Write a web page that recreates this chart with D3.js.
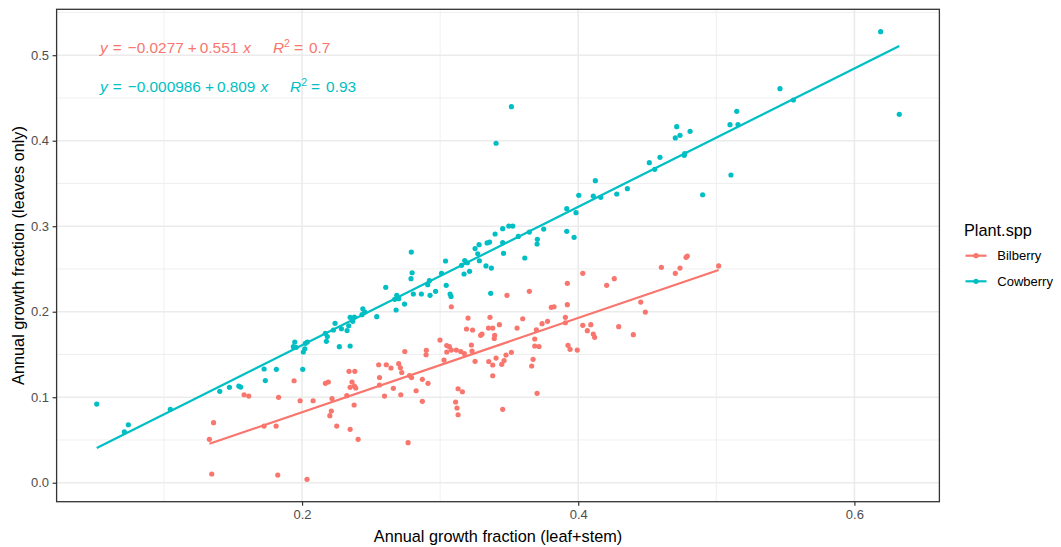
<!DOCTYPE html>
<html>
<head>
<meta charset="utf-8">
<script src="https://cdn.jsdelivr.net/npm/d3@7"></script>
<style>
	body { margin: 0; background: #fff; }
	text { font-family: "Liberation Sans", Arial, sans-serif; }
</style>
</head>
<body>
<svg width="1061" height="547"></svg>
<script>
// [leaf+stem fraction, leaves-only fraction]
var bilberry = [
	[0.1329,0.0508],[0.1359,0.0702],[0.1346,0.0102],[0.1580,0.1029],[0.1614,0.1014],[0.1725,0.0663],
	[0.1812,0.0663],[0.1830,0.0999],[0.1824,0.0090],[0.1942,0.1193],[0.1986,0.0959],[0.2080,0.0959],
	[0.2036,0.0040],[0.2169,0.1163],[0.2190,0.1178],[0.2217,0.0985],[0.2212,0.0839],[0.2201,0.0784],
	[0.2251,0.0663],[0.2348,0.0625],[0.2406,0.0508],[0.2340,0.1303],[0.2382,0.1303],[0.2362,0.1178],
	[0.2379,0.1131],[0.2348,0.1116],[0.2389,0.1108],[0.2324,0.1018],[0.2377,0.0909],[0.2555,0.1380],
	[0.2610,0.1380],[0.2644,0.1342],[0.2700,0.1392],[0.2712,0.1345],[0.2722,0.1289],[0.2744,0.1535],
	[0.2561,0.1230],[0.2561,0.1143],[0.2661,0.1104],[0.2597,0.1014],[0.2715,0.1029],[0.2778,0.1254],
	[0.2793,0.1230],[0.2768,0.0468],[0.2826,0.1076],[0.2871,0.1209],[0.2912,0.1163],[0.2871,0.0952],
	[0.2900,0.1549],[0.2898,0.1497],[0.2999,0.1669],[0.3048,0.1605],[0.3067,0.1591],[0.3048,0.1529],
	[0.3081,0.1552],[0.3117,0.1552],[0.3149,0.1535],[0.3175,0.1511],[0.3028,0.1435],[0.3130,0.1099],
	[0.3161,0.1064],[0.3112,0.0944],[0.3122,0.0874],[0.3130,0.0795],[0.3202,0.1926],[0.3191,0.1798],
	[0.3235,0.1786],[0.3226,0.1611],[0.3231,0.1540],[0.3253,0.1420],[0.3081,0.2058],[0.3293,0.1724],
	[0.3303,0.1739],[0.3361,0.1935],[0.3350,0.1809],[0.3381,0.1809],[0.3395,0.1724],[0.3392,0.1687],
	[0.3429,0.1848],[0.3352,0.1418],[0.3381,0.1377],[0.3381,0.1251],[0.3405,0.1458],[0.3477,0.1494],
	[0.3463,0.1429],[0.3446,0.1385],[0.3516,0.1525],[0.3453,0.0858],[0.3484,0.2192],[0.3557,0.1809],
	[0.3598,0.1918],[0.3646,0.2239],[0.3697,0.1789],[0.3738,0.1860],[0.3778,0.1888],[0.3685,0.1681],
	[0.3685,0.1599],[0.3716,0.1593],[0.3673,0.1443],[0.3663,0.1365],[0.3702,0.1046],[0.3805,0.2051],
	[0.3825,0.2058],[0.3921,0.2332],[0.3921,0.2082],[0.3907,0.1935],[0.3907,0.1871],[0.3926,0.1607],
	[0.3941,0.1560],[0.3993,0.1552],[0.4033,0.2449],[0.4033,0.1841],[0.4066,0.1778],[0.4091,0.1848],
	[0.4109,0.1739],[0.4119,0.1701],[0.4206,0.2309],[0.4261,0.2386],[0.4293,0.1825],[0.4399,0.1731],
	[0.4453,0.2113],[0.4486,0.1996],[0.4602,0.2519],[0.4703,0.2449],[0.4737,0.2511],[0.4781,0.2636],
	[0.4790,0.2651],[0.5017,0.2535]
];

var cowberry = [
	[0.0513,0.0920],[0.0713,0.0596],[0.0742,0.0678],[0.1046,0.0858],[0.1404,0.1069],[0.1474,0.1116],
	[0.1542,0.1131],[0.1555,0.1119],[0.1725,0.1330],[0.1734,0.1195],[0.1814,0.1326],[0.2005,0.1326],
	[0.1947,0.1646],[0.1937,0.1591],[0.1957,0.1584],[0.2024,0.1630],[0.2038,0.1646],[0.2020,0.1567],
	[0.2009,0.1529],[0.2169,0.1747],[0.2183,0.1710],[0.2176,0.1654],[0.2239,0.1864],[0.2227,0.1786],
	[0.2270,0.1591],[0.2348,0.1599],[0.2285,0.1801],[0.2326,0.1780],[0.2338,0.1836],[0.2348,0.1935],
	[0.2379,0.1938],[0.2367,0.1888],[0.2440,0.2035],[0.2454,0.1996],[0.2434,0.1965],[0.2541,0.1942],
	[0.2606,0.2285],[0.2686,0.2192],[0.2671,0.2145],[0.2700,0.2152],[0.2681,0.2020],[0.2742,0.2090],
	[0.2791,0.2698],[0.2797,0.2456],[0.2789,0.2386],[0.2806,0.2207],[0.2864,0.2207],[0.2922,0.2363],
	[0.2910,0.2316],[0.2927,0.2192],[0.2967,0.2239],[0.3010,0.2449],[0.3039,0.2593],[0.3044,0.2309],
	[0.3072,0.2207],[0.3079,0.2178],[0.3155,0.2543],[0.3173,0.2441],[0.3178,0.2599],[0.3197,0.2573],
	[0.3213,0.2473],[0.3253,0.2739],[0.3282,0.2784],[0.3272,0.2678],[0.3284,0.2596],[0.3332,0.2535],
	[0.3371,0.2511],[0.3340,0.2804],[0.3358,0.2815],[0.3366,0.2215],[0.3398,0.2909],[0.3405,0.3970],
	[0.3516,0.4398],[0.3453,0.2971],[0.3497,0.3002],[0.3526,0.3002],[0.3453,0.2807],[0.3459,0.2683],
	[0.3566,0.2880],[0.3613,0.2628],[0.3646,0.2932],[0.3704,0.2847],[0.3702,0.2792],[0.3750,0.2967],
	[0.3917,0.2940],[0.3970,0.2870],[0.3917,0.3205],[0.3984,0.3158],[0.4004,0.3361],[0.4109,0.3353],
	[0.4124,0.3532],[0.4163,0.3338],[0.4279,0.3377],[0.4356,0.3439],[0.4515,0.3743],[0.4554,0.3665],
	[0.4592,0.3806],[0.4768,0.3829],[0.4771,0.3850],[0.4703,0.4032],[0.4737,0.4063],[0.4713,0.4164],
	[0.4810,0.4110],[0.4901,0.3368],[0.5099,0.4187],[0.5157,0.4187],[0.5148,0.4344],[0.5106,0.3599],
	[0.5461,0.4608],[0.5558,0.4476],[0.6190,0.5275],[0.6325,0.4309]
];

var species = ['Bilberry', 'Cowberry'];
var colors = ['#F8766D', '#00BFC4'];
// lm fits printed on the chart: [intercept, slope, R2 label]
var fits = [[-0.0277, 0.551, '0.7'], [-0.000986, 0.809, '0.93']];
var fitLabels = [['\u22120.0277', '0.551'], ['\u22120.000986', '0.809']];

var xTicks = [0.2, 0.4, 0.6];
var yTicks = [0, 0.1, 0.2, 0.3, 0.4, 0.5];
var xMinor = [0.1, 0.3, 0.5];
var yMinor = [0.05, 0.15, 0.25, 0.35, 0.45, 0.55];

var svg = d3.select('svg'),
	width = +svg.attr('width'),
	height = +svg.attr('height');

var panel = {left: 56.6, right: 939.4, top: 9.3, bottom: 501.7};
var groups = [bilberry, cowberry];
var all = bilberry.concat(cowberry);

// ggplot style 5% expansion of the data range
function expand(ext) {
	var p = (ext[1] - ext[0]) * 0.05;
	return [ext[0] - p, ext[1] + p];
}
var x = d3.scaleLinear()
	.domain(expand(d3.extent(all, function(d) { return d[0]; })))
	.range([panel.left, panel.right]);
var y = d3.scaleLinear()
	.domain(expand(d3.extent(all, function(d) { return d[1]; })))
	.range([panel.bottom, panel.top]);

svg.append('rect').attr('width', width).attr('height', height).attr('fill', '#fff');

var grid = svg.append('g');
grid.selectAll('.xminor').data(xMinor).enter().append('line')
	.attr('x1', x).attr('x2', x).attr('y1', panel.top).attr('y2', panel.bottom)
	.attr('stroke', '#EBEBEB').attr('stroke-width', 0.8);
grid.selectAll('.yminor').data(yMinor.filter(function(v) { return v < y.domain()[1]; })).enter().append('line')
	.attr('y1', y).attr('y2', y).attr('x1', panel.left).attr('x2', panel.right)
	.attr('stroke', '#EBEBEB').attr('stroke-width', 0.8);
grid.selectAll('.xmajor').data(xTicks).enter().append('line')
	.attr('x1', x).attr('x2', x).attr('y1', panel.top).attr('y2', panel.bottom)
	.attr('stroke', '#EBEBEB').attr('stroke-width', 1.6);
grid.selectAll('.ymajor').data(yTicks).enter().append('line')
	.attr('y1', y).attr('y2', y).attr('x1', panel.left).attr('x2', panel.right)
	.attr('stroke', '#EBEBEB').attr('stroke-width', 1.6);

// points
groups.forEach(function(g, i) {
	svg.append('g').selectAll('circle')
		.data(g)
		.enter()
		.append('circle')
		.attr('cx', function(d) { return x(d[0]); })
		.attr('cy', function(d) { return y(d[1]); })
		.attr('r', 2.6)
		.attr('fill', colors[i]);
});

// fitted lines over each group's x range
groups.forEach(function(g, i) {
	var ext = d3.extent(g, function(d) { return d[0]; });
	svg.append('line')
		.attr('x1', x(ext[0])).attr('y1', y(fits[i][0] + fits[i][1] * ext[0]))
		.attr('x2', x(ext[1])).attr('y2', y(fits[i][0] + fits[i][1] * ext[1]))
		.attr('stroke', colors[i])
		.attr('stroke-width', 2.2);
});

// equations (plotmath-like spacing)
var eqY = [53.3, 91.7];
fits.forEach(function(f, i) {
	var t = svg.append('text')
		.attr('x', 100).attr('y', eqY[i])
		.attr('fill', colors[i])
		.attr('font-size', 15.4);
	t.append('tspan').attr('font-style', 'italic').text('y');
	t.append('tspan').attr('dx', 5).text('=');
	t.append('tspan').attr('dx', 6).text(fitLabels[i][0]);
	t.append('tspan').attr('dx', 4).text('+');
	t.append('tspan').attr('dx', 3).text(fitLabels[i][1]);
	t.append('tspan').attr('dx', 5).attr('font-style', 'italic').text('x');
	t.append('tspan').attr('dx', 22).attr('font-style', 'italic').text('R');
	t.append('tspan').attr('dy', -6).attr('font-size', 10.5).text('2');
	t.append('tspan').attr('dy', 6).attr('dx', 4).text('=');
	t.append('tspan').attr('dx', 6).text(f[2]);
});

// panel border
svg.append('rect')
	.attr('x', panel.left).attr('y', panel.top)
	.attr('width', panel.right - panel.left).attr('height', panel.bottom - panel.top)
	.attr('fill', 'none').attr('stroke', '#333333').attr('stroke-width', 1.3);

// axes
var xAxis = svg.append('g')
	.attr('transform', 'translate(0,' + panel.bottom + ')')
	.call(d3.axisBottom(x).tickValues(xTicks).tickSize(4).tickPadding(4.5).tickFormat(d3.format('.1f')));
var yAxis = svg.append('g')
	.attr('transform', 'translate(' + panel.left + ',0)')
	.call(d3.axisLeft(y).tickValues(yTicks).tickSize(4).tickPadding(3.5).tickFormat(d3.format('.1f')));
[xAxis, yAxis].forEach(function(a) {
	a.select('.domain').remove();
	a.selectAll('line').attr('stroke', '#333333').attr('stroke-width', 1.2);
	a.selectAll('text').attr('fill', '#4D4D4D').attr('font-size', 13)
		.attr('font-family', '"Liberation Sans", Arial, sans-serif');
});

// axis titles
svg.append('text')
	.attr('x', (panel.left + panel.right) / 2).attr('y', 541.5)
	.attr('text-anchor', 'middle').attr('font-size', 16.3).attr('fill', '#000')
	.text('Annual growth fraction (leaf+stem)');
svg.append('text')
	.attr('transform', 'translate(23.5,' + ((panel.top + panel.bottom) / 2) + ') rotate(-90)')
	.attr('text-anchor', 'middle').attr('font-size', 16.3).attr('fill', '#000')
	.text('Annual growth fraction (leaves only)');

// legend
var legend = svg.append('g').attr('transform', 'translate(963,0)');
legend.append('text')
	.attr('x', 1).attr('y', 235.5)
	.attr('font-size', 16.3).attr('fill', '#000')
	.text('Plant.spp');
var keys = legend.selectAll('.key').data(species).enter().append('g')
	.attr('transform', function(d, i) { return 'translate(0,' + (255.7 + i * 25.6) + ')'; });
keys.append('line')
	.attr('x1', 2.5).attr('x2', 23.5).attr('y1', 0).attr('y2', 0)
	.attr('stroke', function(d, i) { return colors[i]; })
	.attr('stroke-width', 2.2);
keys.append('circle')
	.attr('cx', 13).attr('cy', 0).attr('r', 2.6)
	.attr('fill', function(d, i) { return colors[i]; });
keys.append('text')
	.attr('x', 34.3).attr('y', 0).attr('dy', '0.36em')
	.attr('font-size', 13).attr('fill', '#000')
	.text(function(d) { return d; });
</script>
</body>
</html>
